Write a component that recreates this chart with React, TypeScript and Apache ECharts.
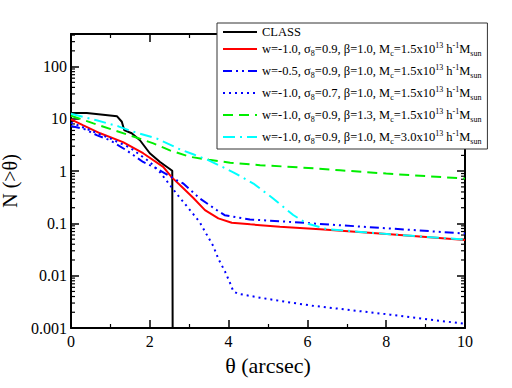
import React, { useEffect, useRef } from 'react';
import * as echarts from 'echarts';

const FONT = 'Liberation Serif';

// x tick labels (theta, arcsec) and y decades
const X_TICKS = [0, 2, 4, 6, 8, 10];
const Y_DECADES = [0.001, 0.01, 0.1, 1, 10, 100];
const Y_MINOR_MULTS = [2, 3, 4, 5, 6, 7, 8, 9];

// CLASS observed counts
const CLASS_X = [0, 0.4, 1.17, 1.29, 1.35, 1.54, 1.75, 2.0, 2.26, 2.57, 2.58];
const CLASS_Y = [13, 12.9, 11.2, 8.8, 6.1, 5.3, 3.9, 2.2, 1.5, 1.02, 0.001];

// w=-1.0, s8=0.9, b=1.0, Mc=1.5e13
const RED_X = [0, 0.3, 0.74, 1.32, 1.83, 2.34, 2.56, 2.85, 3.1, 3.4, 3.74, 4.08, 4.55, 5.3, 6.32, 8.1, 10];
const RED_Y = [9.8, 7.6, 5.3, 3.6, 2.2, 1.21, 0.76, 0.47, 0.31, 0.18, 0.125, 0.103, 0.096, 0.086, 0.077, 0.062, 0.048];

// w=-0.5
const BDD_X = [0, 0.36, 0.65, 0.99, 1.41, 1.83, 2.18, 2.45, 2.68, 2.85, 3.27, 3.7, 3.9, 4.54, 5.3, 8.1, 10];
const BDD_Y = [7.3, 6.3, 4.9, 3.9, 2.5, 1.5, 1.12, 0.85, 0.67, 0.58, 0.3, 0.18, 0.144, 0.119, 0.11, 0.08, 0.064];

// sigma8=0.7
const BDOT_X = [0, 0.5, 1.0, 1.5, 2.0, 2.26, 2.68, 3.02, 3.27, 3.44, 3.61, 3.74, 3.91, 4.05, 4.12, 4.25, 4.8, 5.3, 6.07, 8.1, 10];
const BDOT_Y = [8.5, 6.0, 4.2, 2.8, 1.5, 0.95, 0.37, 0.18, 0.105, 0.062, 0.037, 0.021, 0.012, 0.0069, 0.005, 0.0045, 0.0038, 0.0033, 0.0027, 0.0018, 0.0012];

// beta=1.3
const GREEN_X = [0, 0.57, 1.08, 1.62, 2.09, 2.51, 3.02, 3.5, 4.04, 4.8, 5.81, 6.83, 8, 10];
const GREEN_Y = [11.5, 8.2, 6.1, 4.5, 3.4, 2.5, 1.88, 1.65, 1.45, 1.3, 1.18, 1.04, 0.9, 0.72];

// Mc=3.0e13
const CYAN_X = [0, 0.65, 1.2, 1.54, 2.18, 2.77, 3.1, 3.44, 3.8, 4.12, 4.63, 5.13, 5.64, 5.98, 6.49, 8.1, 10];
const CYAN_Y = [12.5, 9.4, 7.2, 5.8, 4.2, 2.6, 2.1, 1.68, 1.25, 0.95, 0.58, 0.3, 0.145, 0.1, 0.078, 0.062, 0.049];

const NAMES = [
  'CLASS',
  'w=-1.0, σ8=0.9, β=1.0, Mc=1.5x10^13 h^-1 Msun',
  'w=-0.5, σ8=0.9, β=1.0, Mc=1.5x10^13 h^-1 Msun',
  'w=-1.0, σ8=0.7, β=1.0, Mc=1.5x10^13 h^-1 Msun',
  'w=-1.0, σ8=0.9, β=1.3, Mc=1.5x10^13 h^-1 Msun',
  'w=-1.0, σ8=0.9, β=1.0, Mc=3.0x10^13 h^-1 Msun',
];
const LEGEND_RICH = [
  'CLASS',
  'w=-1.0, σ{sub|8}=0.9, β=1.0, M{sub|c}=1.5x10{sup|13} h{sup|-1}M{sub|sun}',
  'w=-0.5, σ{sub|8}=0.9, β=1.0, M{sub|c}=1.5x10{sup|13} h{sup|-1}M{sub|sun}',
  'w=-1.0, σ{sub|8}=0.7, β=1.0, M{sub|c}=1.5x10{sup|13} h{sup|-1}M{sub|sun}',
  'w=-1.0, σ{sub|8}=0.9, β=1.3, M{sub|c}=1.5x10{sup|13} h{sup|-1}M{sub|sun}',
  'w=-1.0, σ{sub|8}=0.9, β=1.0, M{sub|c}=3.0x10{sup|13} h{sup|-1}M{sub|sun}',
];
const X_NAME = 'θ (arcsec)';
const Y_NAME = 'N (>θ)';

const zip = (xs: number[], ys: number[]) => xs.map((x, i) => [x, ys[i]]);

const fmtY = (v: number) => {
  const s = v >= 1 ? String(Math.round(v)) : String(parseFloat(v.toPrecision(3)));
  return `{t|${s}}`;
};

export default function App() {
  const ref = useRef<HTMLDivElement>(null);
  useEffect(() => {
    if (!ref.current) return;
    const chart = echarts.init(ref.current, undefined, { renderer: 'svg' });
    const yMax = 420;
    const minor: number[][] = [];
    Y_DECADES.forEach((d) => {
      Y_MINOR_MULTS.forEach((m) => {
        const v = d * m;
        if (v <= yMax) minor.push([0, v]);
      });
    });

    const labelRich = { t: { fontFamily: FONT, fontSize: 16, color: '#000' } };

    const axisCommonX = {
      type: 'value' as const,
      min: X_TICKS[0],
      max: X_TICKS[X_TICKS.length - 1],
      interval: 2,
      axisLine: { show: true, onZero: false, lineStyle: { color: '#000', width: 2 } },
      axisTick: { show: true, inside: true, length: 8, lineStyle: { color: '#000', width: 1.5 } },
      minorTick: { show: true, splitNumber: 2, length: 4, lineStyle: { color: '#000', width: 1.2 } },
      splitLine: { show: false },
      minorSplitLine: { show: false },
    };
    const axisCommonY = {
      type: 'log' as const,
      logBase: 10,
      min: Y_DECADES[0],
      max: yMax,
      axisLine: { show: true, onZero: false, lineStyle: { color: '#000', width: 2 } },
      axisTick: { show: true, inside: true, length: 8, lineStyle: { color: '#000', width: 1.5 } },
      splitLine: { show: false },
    };

    const lineSeries = (name: string, xs: number[], ys: number[], color: string, type: any, width = 2) => ({
      type: 'line',
      name,
      data: zip(xs, ys),
      showSymbol: false,
      symbol: 'none',
      smooth: false,
      lineStyle: { color, width, type, cap: 'butt' },
      itemStyle: { color },
      z: 2,
    });

    chart.setOption({
      animation: false,
      backgroundColor: '#fff',
      textStyle: { fontFamily: FONT },
      grid: { left: 71, right: 47, top: 34, bottom: 60, containLabel: false, outerBoundsMode: 'none' },
      xAxis: [
        {
          ...axisCommonX,
          position: 'bottom',
          name: `{n|${X_NAME}}`,
          nameLocation: 'middle',
          nameGap: 26,
          nameTextStyle: { fontFamily: FONT, fontSize: 22, color: '#000', rich: { n: { fontFamily: FONT, fontSize: 22, color: '#000' } } },
          axisLabel: {
            show: true, fontFamily: FONT, fontSize: 16, color: '#000', margin: 5,
            formatter: (v: number) => `{t|${v}}`, rich: labelRich,
          },
        },
        {
          ...axisCommonX,
          position: 'top',
          axisLabel: { show: false },
        },
      ],
      yAxis: [
        {
          ...axisCommonY,
          position: 'left',
          name: `{n|${Y_NAME}}`,
          nameLocation: 'middle',
          nameGap: 46,
          nameTextStyle: { fontFamily: FONT, fontSize: 20, color: '#000', rich: { n: { fontFamily: FONT, fontSize: 20, color: '#000' } } },
          axisLabel: {
            show: true, fontFamily: FONT, fontSize: 16, color: '#000', margin: 4, showMaxLabel: false,
            formatter: fmtY, rich: labelRich,
          },
        },
        {
          ...axisCommonY,
          position: 'right',
          axisLabel: { show: false },
        },
      ],
      legend: {
        show: true,
        orient: 'vertical',
        left: 217,
        top: 23,
        z: 10,
        itemWidth: 34,
        itemHeight: 14,
        itemGap: -2,
        padding: [2, 6, 0, 5],
        backgroundColor: '#fff',
        borderColor: '#333',
        borderWidth: 1,
        borderRadius: 0,
        selectedMode: false,
        align: 'left',
        itemStyle: { opacity: 0 },
        data: NAMES.map((n, i) => (i === 0 ? { name: n, textStyle: { lineHeight: 14 } } : { name: n })),
        formatter: (name: string) => LEGEND_RICH[NAMES.indexOf(name)],
        textStyle: {
          fontFamily: FONT,
          fontSize: 12.5,
          color: '#000',
          lineHeight: 24,
          rich: {
            sub: { fontFamily: FONT, fontSize: 8, color: '#000', padding: [8, 0, 0, 0] },
            sup: { fontFamily: FONT, fontSize: 8, color: '#000', padding: [0, 0, 8, 0] },
          },
        },
      },
      series: [
        lineSeries(NAMES[0], CLASS_X, CLASS_Y, '#000000', 'solid', 2),
        lineSeries(NAMES[1], RED_X, RED_Y, '#ff0000', 'solid', 2),
        lineSeries(NAMES[2], BDD_X, BDD_Y, '#0000ff', [9, 4, 2, 4, 2, 4], 2),
        lineSeries(NAMES[3], BDOT_X, BDOT_Y, '#0000ff', [2, 4], 2),
        lineSeries(NAMES[4], GREEN_X, GREEN_Y, '#00ee00', [10, 6], 2),
        lineSeries(NAMES[5], CYAN_X, CYAN_Y, '#00ffff', [12, 5, 2, 5], 2),
        {
          type: 'custom',
          name: 'yMinorTicks',
          silent: true,
          xAxisIndex: 0,
          yAxisIndex: 0,
          data: minor,
          z: 1,
          renderItem: (params: any, api: any) => {
            const cs = params.coordSys;
            const y = api.coord([0, api.value(1)])[1];
            const st = { stroke: '#000', lineWidth: 1.2 };
            return {
              type: 'group',
              children: [
                { type: 'line', shape: { x1: cs.x, y1: y, x2: cs.x + 4, y2: y }, style: st },
                { type: 'line', shape: { x1: cs.x + cs.width, y1: y, x2: cs.x + cs.width - 4, y2: y }, style: st },
              ],
            };
          },
        },
      ],
    });
    return () => chart.dispose();
  }, []);
  return <div ref={ref} style={{ width: 512, height: 388, position: 'absolute', left: 0, top: 0 }} />;
}
